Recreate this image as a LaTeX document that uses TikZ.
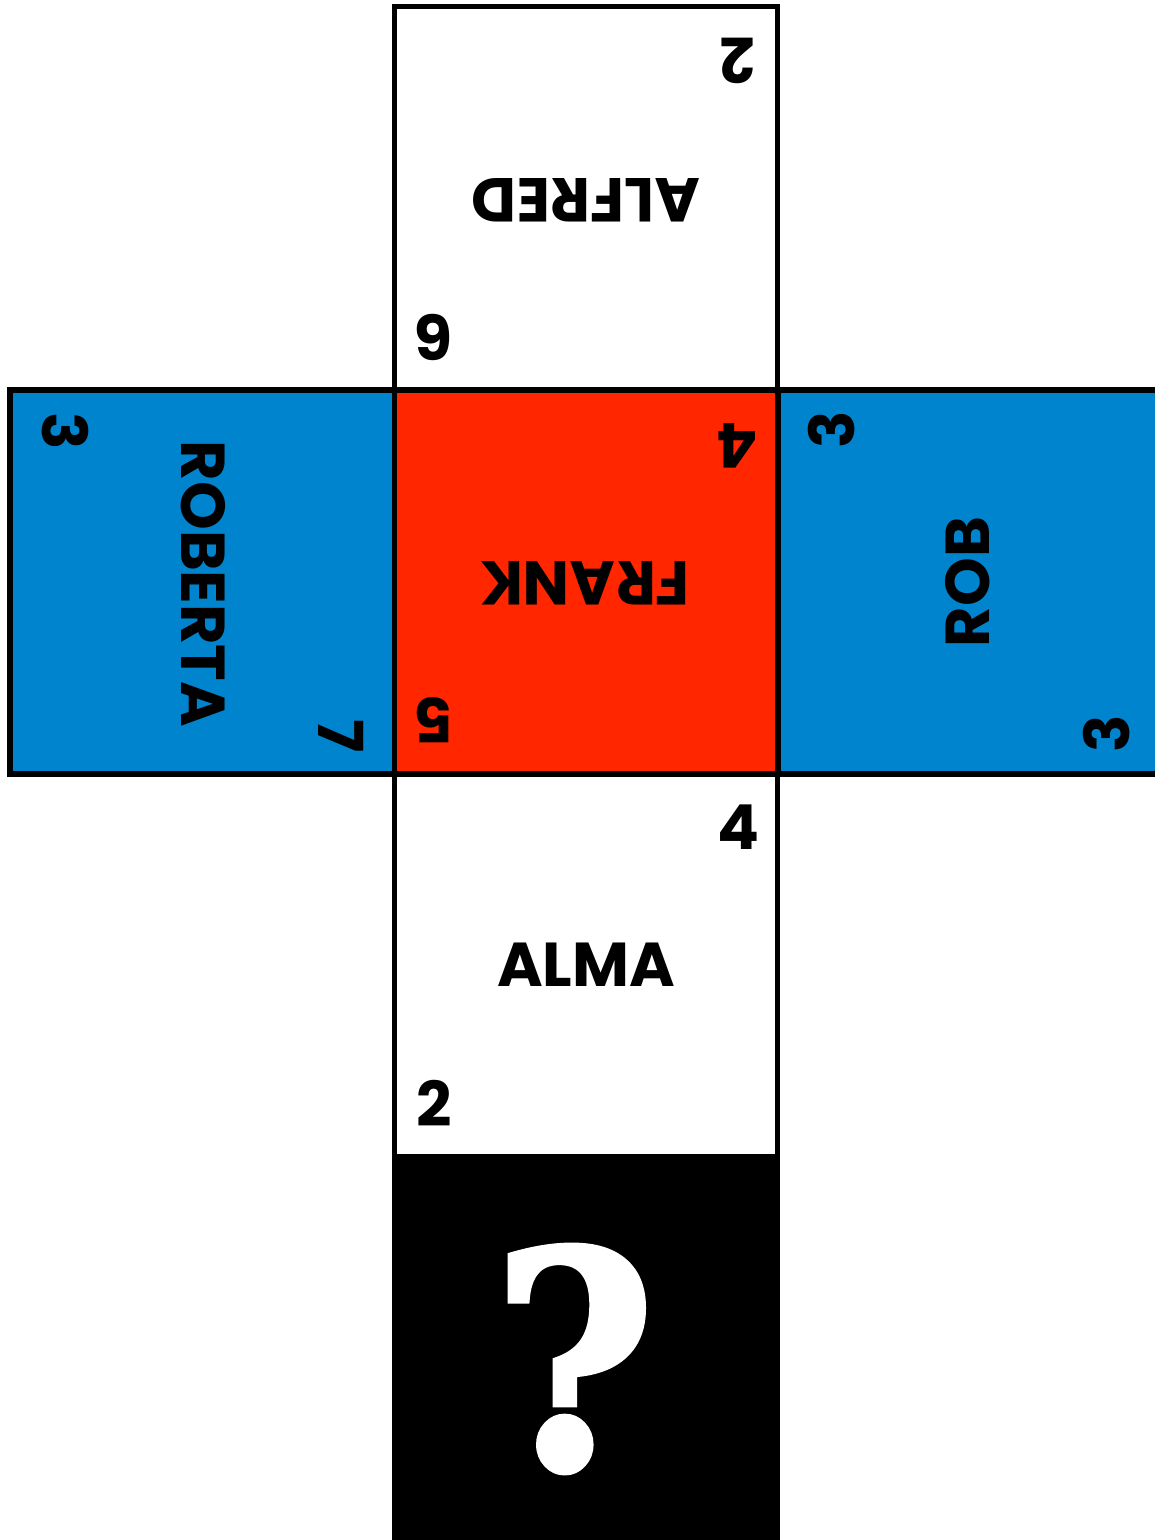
\documentclass[tikz,border=0pt]{standalone}
\usepackage{fontspec}
\setmainfont{Poppins}
\newfontfamily\qfont{DejaVu Serif}[FakeBold=2]
\definecolor{cubeblue}{RGB}{0,132,206}
\definecolor{cubered}{RGB}{255,38,0}
\begin{document}
\begin{tikzpicture}[x=1pt,y=-1pt,
  face/.style={draw=black,line width=5.5pt},
  lbl/.style={font=\fontsize{62}{62}\selectfont\bfseries,inner sep=0pt,anchor=center}]
\useasboundingbox (0,0) rectangle (1155,1540);
\clip (0,0) rectangle (1155,1540);
% faces
\path[face,fill=white] (394.5,6.5) rectangle (777.5,390);
\path[face,fill=cubeblue] (10,390) rectangle (394.5,774);
\path[face,fill=cubered] (394.5,390) rectangle (778,774);
\path[face,fill=cubeblue] (778,390) rectangle (1170,774);
\path[face,fill=white] (394.5,774) rectangle (777.5,1157);
\path[face,fill=black] (394.5,1157) rectangle (777.5,1570);
% top face
\node[lbl,rotate=180] (alfred) at (586,200) {ALFRED};
\node[lbl,rotate=180] (t2) at (738,61) {2};
\node[lbl,rotate=180] (t6) at (434,337) {6};
% left face
\node[lbl,rotate=-90] (roberta) at (203,584) {ROBERTA};
\node[lbl,rotate=-90] (l3) at (65,431) {3};
\node[lbl,rotate=-90] (l7) at (341,736) {7};
% centre face
\node[lbl,rotate=180] (frank) at (585,583) {FRANK};
\node[lbl,rotate=180] (c4) at (738,446) {4};
\node[lbl,rotate=180] (c5) at (434,720) {5};
% right face
\node[lbl,rotate=90] (rob) at (968,582) {ROB};
\node[lbl,rotate=90] (r3a) at (832,430) {3};
\node[lbl,rotate=90] (r3b) at (1107,734) {3};
% bottom face
\node[lbl] (alma) at (586,965) {ALMA};
\node[lbl] (b4) at (738,827) {4};
\node[lbl] (b2) at (434,1103) {2};
% hidden face
\node[inner sep=0pt,text=white,xscale=0.93,font=\qfont\fontsize{300}{300}\selectfont\bfseries] (q) at (574,1359) {?};
\end{tikzpicture}
\end{document}
